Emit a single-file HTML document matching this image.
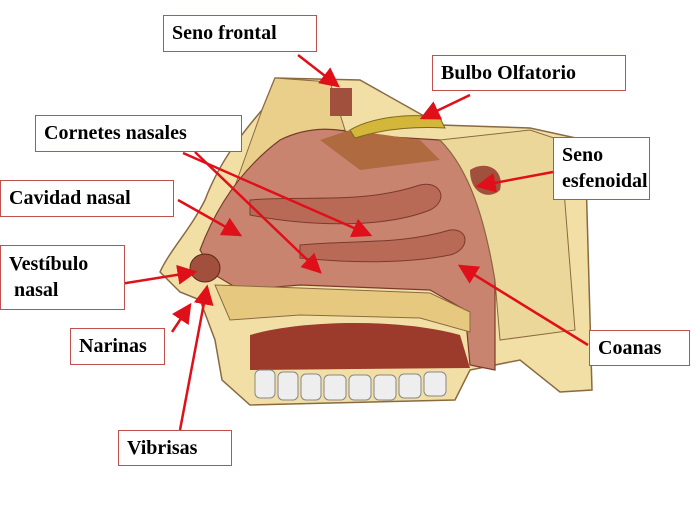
<!DOCTYPE html>
<html><head><meta charset="utf-8"><style>
html,body{margin:0;padding:0;background:#fff;}
body{width:700px;height:525px;position:relative;overflow:hidden;font-family:"Liberation Serif",serif;}
.l{position:absolute;background:#fff;border:1px solid #c0504d;font-weight:bold;font-size:20px;color:#000;padding:0 8px;box-sizing:border-box;line-height:26px;}
svg{position:absolute;left:0;top:0;}
</style></head><body>
<svg width="700" height="525" viewBox="0 0 700 525">
<!-- head outline / skin -->
<path d="M160,272 C170,250 190,230 205,200 C220,160 245,130 262,110 L275,78 L360,80 L440,125 L530,128 L585,140 L592,390 L560,392 L520,360 L470,370 L455,400 L250,405 L222,380 L215,340 L200,300 L180,292 Z" fill="#f2dfa6" stroke="#8a6a40" stroke-width="1.5"/>
<!-- frontal bone -->
<path d="M262,110 L275,78 L330,82 L345,130 L300,140 L250,190 L230,200 Z" fill="#e9cf8a" stroke="#8a6a40"/>
<rect x="330" y="88" width="22" height="28" fill="#a0503c"/>
<!-- nasal cavity -->
<path d="M200,250 C215,210 240,170 280,140 C310,125 340,128 360,135 L440,140 C470,170 485,220 495,280 L495,370 L470,365 L465,310 L430,290 L300,285 L240,290 L215,275 Z" fill="#c98470" stroke="#7a3b2c" stroke-width="1.2"/>
<!-- turbinates -->
<path d="M250,200 C300,195 360,205 420,185 C440,180 450,200 430,210 C380,230 300,225 250,215 Z" fill="#b96a56" stroke="#7a3b2c"/>
<path d="M300,245 C350,240 400,245 450,230 C470,228 470,250 450,255 C400,265 340,262 300,258 Z" fill="#b96a56" stroke="#7a3b2c"/>
<path d="M320,140 L350,130 L420,140 L440,160 L360,170 Z" fill="#b06a40"/>
<!-- olfactory bulb -->
<path d="M350,130 C370,118 410,112 440,118 L445,128 C410,126 380,130 355,138 Z" fill="#d4b63a" stroke="#7a6a20"/>
<!-- sphenoid -->
<path d="M440,140 L530,130 L560,140 L575,330 L500,340 L495,280 C485,220 470,170 440,140 Z" fill="#ecd79a" stroke="#8a6a40"/>
<path d="M470,170 C485,160 505,168 500,190 C490,200 470,195 470,170 Z" fill="#a0503c"/>
<!-- palate -->
<path d="M215,285 L300,288 L430,293 L470,312 L470,332 L420,318 L300,315 L230,320 Z" fill="#e6c97e" stroke="#8a6a40"/>
<!-- mouth -->
<path d="M250,335 C300,320 400,318 460,335 L470,368 L250,370 Z" fill="#9c3a2c"/>
<!-- teeth -->
<g fill="#eee" stroke="#888">
<rect x="255" y="370" width="20" height="28" rx="5"/><rect x="278" y="372" width="20" height="28" rx="5"/><rect x="301" y="374" width="20" height="26" rx="5"/><rect x="324" y="375" width="22" height="25" rx="5"/><rect x="349" y="375" width="22" height="25" rx="5"/><rect x="374" y="375" width="22" height="25" rx="5"/><rect x="399" y="374" width="22" height="24" rx="5"/><rect x="424" y="372" width="22" height="24" rx="5"/>
</g>
<!-- nostril -->
<ellipse cx="205" cy="268" rx="15" ry="14" fill="#a0503c" stroke="#5a2a1c"/>
<!-- arrows -->
<defs><marker id="a" markerWidth="8" markerHeight="8" refX="7" refY="4" orient="auto"><path d="M0,0 L8,4 L0,8 Z" fill="#e0101a"/></marker></defs>
<g stroke="#e0101a" stroke-width="2.5" fill="none" marker-end="url(#a)">
<line x1="298" y1="55" x2="338" y2="86"/>
<line x1="470" y1="95" x2="422" y2="118"/>
<line x1="183" y1="153" x2="370" y2="235"/>
<line x1="195" y1="152" x2="320" y2="272"/>
<line x1="178" y1="200" x2="240" y2="235"/>
<line x1="553" y1="172" x2="478" y2="186"/>
<line x1="120" y1="284" x2="195" y2="272"/>
<line x1="172" y1="332" x2="190" y2="305"/>
<line x1="180" y1="430" x2="207" y2="287"/>
<line x1="588" y1="345" x2="460" y2="266"/>
</g>
</svg>
<div class="l" style="left:163px;top:15px;width:154px;height:37px;line-height:35px;">Seno frontal</div>
<div class="l" style="left:432px;top:55px;width:194px;height:36px;line-height:34px;">Bulbo Olfatorio</div>
<div class="l" style="left:35px;top:115px;width:207px;height:37px;line-height:35px;">Cornetes nasales</div>
<div class="l" style="left:553px;top:137px;width:97px;height:63px;padding-top:4px;">Seno<br>esfenoidal</div>
<div class="l" style="left:0px;top:180px;width:174px;height:37px;line-height:35px;">Cavidad nasal</div>
<div class="l" style="left:0px;top:245px;width:125px;height:65px;padding-top:5px;">Vestíbulo<br>&nbsp;nasal</div>
<div class="l" style="left:70px;top:328px;width:95px;height:37px;line-height:35px;">Narinas</div>
<div class="l" style="left:589px;top:330px;width:101px;height:36px;line-height:34px;">Coanas</div>
<div class="l" style="left:118px;top:430px;width:114px;height:36px;line-height:34px;">Vibrisas</div>
</body></html>
